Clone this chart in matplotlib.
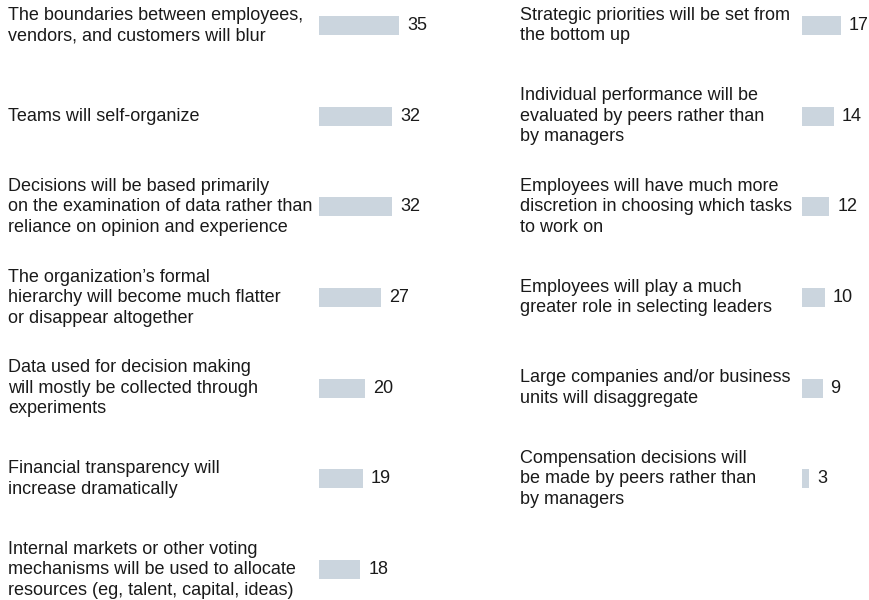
import matplotlib.pyplot as plt
from matplotlib.transforms import blended_transform_factory

plt.rcParams['font.family'] = ['Liberation Sans', 'DejaVu Sans']

left_labels = [
    'The boundaries between employees,\nvendors, and customers will blur',
    'Teams will self-organize',
    'Decisions will be based primarily\non the examination of data rather than\nreliance on opinion and experience',
    'The organization\u2019s formal\nhierarchy will become much flatter\nor disappear altogether',
    'Data used for decision making\nwill mostly be collected through\nexperiments',
    'Financial transparency will\nincrease dramatically',
    'Internal markets or other voting\nmechanisms will be used to allocate\nresources (eg, talent, capital, ideas)',
]
left_values = [35, 32, 32, 27, 20, 19, 18]

right_labels = [
    'Strategic priorities will be set from\nthe bottom up',
    'Individual performance will be\nevaluated by peers rather than\nby managers',
    'Employees will have much more\ndiscretion in choosing which tasks\nto work on',
    'Employees will play a much\ngreater role in selecting leaders',
    'Large companies and/or business\nunits will disaggregate',
    'Compensation decisions will\nbe made by peers rather than\nby managers',
]
right_values = [17, 14, 12, 10, 9, 3]

W, H = 869, 600
PX_PER_UNIT = 2.29
ROW = 90.67
TOP = 25.5
BAR_COLOR = '#cbd5de'

fig = plt.figure(figsize=(W / 100, H / 100), dpi=100)


def panel(bar_x, label_x, labels, values, width_px):
    ax = fig.add_axes([bar_x / W, 0, width_px / W, 1])
    ax.set_xlim(0, width_px / PX_PER_UNIT)
    ax.set_ylim((H - TOP) / ROW, -TOP / ROW)
    ax.axis('off')
    ys = list(range(len(values)))
    ax.barh(ys, values, height=19 / ROW, color=BAR_COLOR, left=0)
    for y, v in zip(ys, values):
        ax.text(v + 8 / PX_PER_UNIT, y, str(v), va='center', ha='left',
                fontsize=13, color='#1a1a1a', clip_on=False)
    tr = blended_transform_factory(fig.transFigure, ax.transData)
    for y, lab in zip(ys, labels):
        ax.text(label_x / W, y, lab, transform=tr, va='center', ha='left',
                fontsize=13, linespacing=1.27, color='#1a1a1a', clip_on=False)
    return ax


panel(319, 8, left_labels, left_values, 130)
panel(802, 520, right_labels, right_values, 60)

fig.savefig('out.png', dpi=100, facecolor='white')
